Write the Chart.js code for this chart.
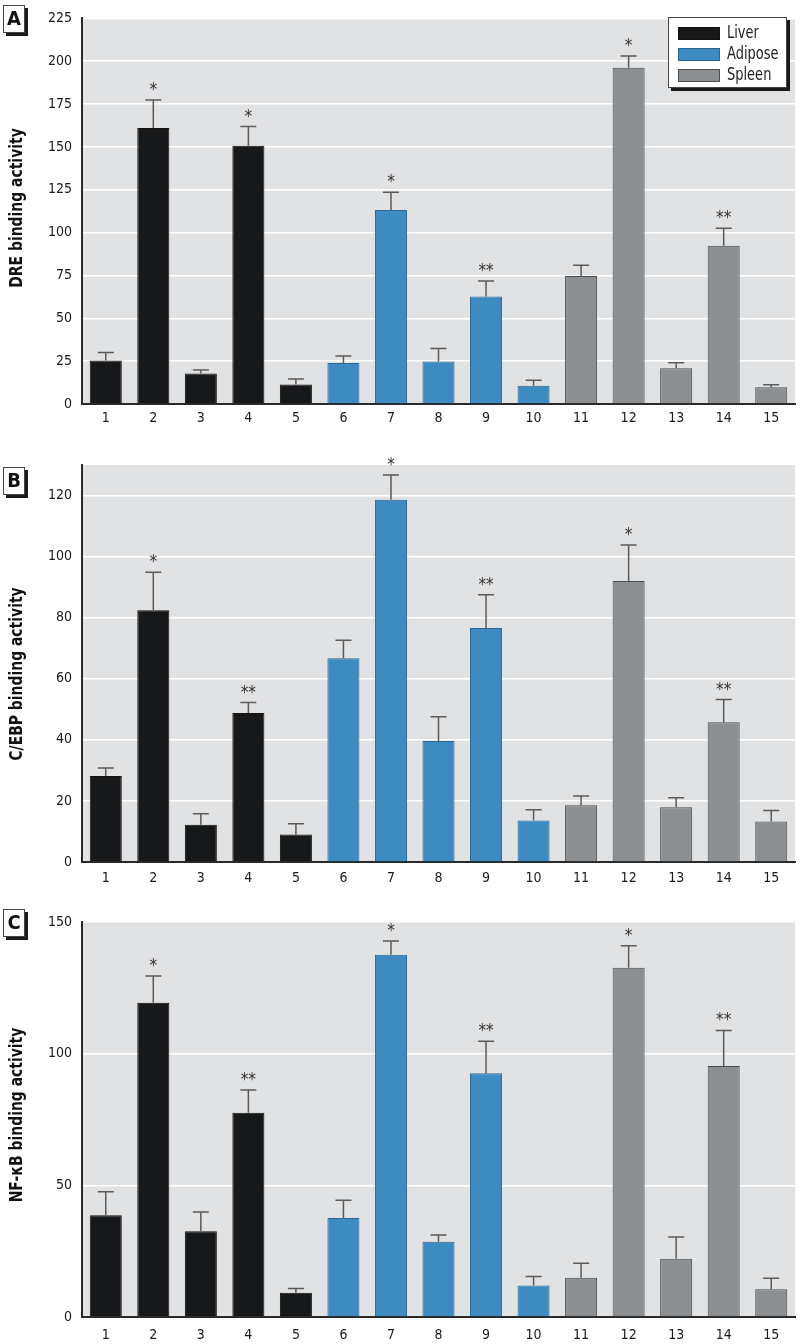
<!DOCTYPE html>
<html>
<head>
<meta charset="utf-8">
<script src="https://cdn.jsdelivr.net/npm/chart.js@4/dist/chart.umd.min.js"></script>
<style>
  body { margin: 0; background: #fff; width: 800px; height: 1344px; position: relative; overflow: hidden; }
  canvas { position: absolute; left: 0; }
</style>
</head>
<body>
<canvas id="chartA" width="800" height="440" style="top:0px"></canvas>
<canvas id="chartB" width="800" height="460" style="top:430px"></canvas>
<canvas id="chartC" width="800" height="464" style="top:880px"></canvas>
<script>
// lanes and tissue groups
var lanes = ['1','2','3','4','5','6','7','8','9','10','11','12','13','14','15'];
var tissues = ['Liver', 'Adipose', 'Spleen'];
var tissueOfLane = [0,0,0,0,0, 1,1,1,1,1, 2,2,2,2,2];

// A: DRE binding activity
var dreMean = [25.4, 161, 17.8, 150.7, 11.4, 23.9, 113.2, 24.8, 62.7, 10.6, 74.7, 196.2, 20.9, 92.3, 9.8];
var dreErr  = [4.6, 16.4, 2.1, 11.2, 3.2, 4.1, 10.4, 7.6, 9.1, 3.2, 6.2, 6.8, 3.2, 10.2, 1.4];
var dreStars = ['', '*', '', '*', '', '', '*', '', '**', '', '', '*', '', '**', ''];
var dreTicks = [0, 25, 50, 75, 100, 125, 150, 175, 200, 225];

// B: C/EBP binding activity
var cebpMean = [28.2, 82.4, 12.2, 48.8, 9.0, 66.7, 118.6, 39.6, 76.6, 13.6, 18.6, 92, 17.9, 45.8, 13.3];
var cebpErr  = [2.6, 12.5, 3.6, 3.4, 3.5, 5.9, 8.1, 8.0, 10.9, 3.5, 3.0, 11.8, 3.1, 7.4, 3.6];
var cebpStars = ['', '*', '', '**', '', '', '*', '', '**', '', '', '*', '', '**', ''];
var cebpTicks = [0, 20, 40, 60, 80, 100, 120];

// C: NF-kB binding activity
var nfkbMean = [38.6, 119.3, 32.6, 77.6, 9.2, 37.6, 137.6, 28.6, 92.6, 12, 14.9, 132.6, 22.1, 95.3, 10.5];
var nfkbErr  = [9.0, 10.2, 7.3, 8.6, 1.6, 6.7, 5.2, 2.5, 12.1, 3.4, 5.5, 8.4, 8.3, 13.5, 4.2];
var nfkbStars = ['', '*', '', '**', '', '', '*', '', '**', '', '', '*', '', '**', ''];
var nfkbTicks = [0, 50, 100, 150];

var fillColors = ['#17181a', '#3d8bc0', '#8c8f91'];
var edgeColors = ['#111111', '#2b6790', '#4a4c4e'];
var FONT = '"Liberation Sans Narrow", "DejaVu Sans Condensed", "Arial Narrow", sans-serif';

function makePanel(id, p) {
    var ctx = document.getElementById(id).getContext('2d');
    var H = ctx.canvas.height;

    // one dataset per tissue, null outside its own lanes (stacked so nulls take no room)
    var datasets = tissues.map(function(name, t) {
        return {
            label: name,
            data: p.mean.map(function(v, i) { return tissueOfLane[i] === t ? v : null; }),
            backgroundColor: fillColors[t],
            borderColor: edgeColors[t],
            borderWidth: 1,
            barPercentage: 0.674,
            categoryPercentage: 1
        };
    });

    var panelPlugin = {
        id: 'panel' + id,
        beforeDraw: function(chart) {
            var a = chart.chartArea, c = chart.ctx;
            c.save();
            c.fillStyle = '#e1e2e4';
            c.fillRect(a.left, a.top, a.right - a.left, a.bottom - a.top);
            c.restore();
        },
        afterDatasetsDraw: function(chart) {
            var c = chart.ctx, y = chart.scales.y;
            c.save();
            // error bars (upper half only) and significance stars
            for (var i = 0; i < p.mean.length; i++) {
                var bar = chart.getDatasetMeta(tissueOfLane[i]).data[i];
                var x = bar.x;
                var yTop = y.getPixelForValue(p.mean[i]);
                var yErr = y.getPixelForValue(p.mean[i] + p.err[i]);
                c.strokeStyle = '#5a5a5a';
                c.lineWidth = 1.5;
                c.beginPath();
                c.moveTo(x, yTop);
                c.lineTo(x, yErr);
                c.moveTo(x - 8, yErr);
                c.lineTo(x + 8, yErr);
                c.stroke();
                if (p.stars[i]) {
                    c.fillStyle = '#333';
                    c.font = '17px ' + FONT;
                    c.textAlign = 'center';
                    c.textBaseline = 'alphabetic';
                    c.fillText(p.stars[i], x, yErr - 5);
                }
            }
            c.restore();
        },
        afterDraw: function(chart) {
            var c = chart.ctx;
            c.save();
            // panel letter box with shadow
            var b = p.box;
            c.fillStyle = '#1a1a1a';
            c.fillRect(b[0] + 3, b[1] + 3, b[2], b[3]);
            c.fillStyle = '#fff';
            c.fillRect(b[0], b[1], b[2], b[3]);
            c.strokeStyle = '#444';
            c.lineWidth = 1;
            c.strokeRect(b[0] + 0.5, b[1] + 0.5, b[2] - 1, b[3] - 1);
            c.fillStyle = '#111';
            c.font = 'bold 20px ' + FONT;
            c.textAlign = 'center';
            c.textBaseline = 'middle';
            c.fillText(p.letter, b[0] + b[2] / 2, b[1] + b[3] / 2 + 1);

            // y axis title, squeezed to look like a condensed face
            c.translate(17, p.titleY);
            c.rotate(-Math.PI / 2);
            c.scale(0.86, 1);
            c.font = 'bold 18px ' + FONT;
            c.fillText(p.title, 0, 0);
            c.restore();

            if (p.legend) {
                c.save();
                var lx = 668, ly = 17, lw = 119, lh = 71;
                c.fillStyle = '#1a1a1a';
                c.fillRect(lx + 3, ly + 3, lw, lh);
                c.fillStyle = '#fff';
                c.fillRect(lx, ly, lw, lh);
                c.strokeStyle = '#444';
                c.strokeRect(lx + 0.5, ly + 0.5, lw - 1, lh - 1);
                chart.data.datasets.forEach(function(ds, t) {
                    var ry = ly + 10 + t * 21;
                    c.fillStyle = ds.backgroundColor;
                    c.fillRect(678, ry, 42, 13);
                    c.strokeStyle = ds.borderColor;
                    c.strokeRect(678.5, ry + 0.5, 41, 12);
                    c.save();
                    c.translate(727, ry + 7);
                    c.scale(0.85, 1);
                    c.fillStyle = '#222';
                    c.font = '17px ' + FONT;
                    c.textAlign = 'left';
                    c.textBaseline = 'middle';
                    c.fillText(ds.label, 0, 0);
                    c.restore();
                });
                c.restore();
            }
        }
    };

    return new Chart(ctx, {
        type: 'bar',
        data: { labels: lanes, datasets: datasets },
        options: {
            responsive: false,
            animation: false,
            devicePixelRatio: 1,
            layout: { padding: { top: p.top, right: 5, left: 0, bottom: 0 } },
            plugins: { legend: { display: false }, tooltip: { enabled: false } },
            scales: {
                x: {
                    stacked: true,
                    grid: { display: false, drawTicks: false },
                    border: { display: true, color: '#2a2a2a', width: 2 },
                    ticks: { color: '#1a1a1a', font: { family: FONT, size: 14 }, padding: p.xPad, maxRotation: 0 },
                    afterFit: function(s) { s.height = H - p.bottom; }
                },
                y: {
                    stacked: true,
                    min: 0,
                    max: p.max,
                    grid: { color: '#ffffff', lineWidth: 1.5, drawTicks: false },
                    border: { display: true, color: '#2a2a2a', width: 2 },
                    ticks: { color: '#1a1a1a', font: { family: FONT, size: 14 }, padding: 10 },
                    afterBuildTicks: function(s) {
                        s.ticks = p.ticks.map(function(v) { return { value: v }; });
                    },
                    afterFit: function(s) { s.width = 82; }
                }
            }
        },
        plugins: [panelPlugin]
    });
}

makePanel('chartA', {
    mean: dreMean, err: dreErr, stars: dreStars, ticks: dreTicks, max: 225,
    top: 8, bottom: 404, xPad: 6,
    letter: 'A', box: [3, 5, 22, 28],
    title: 'DRE binding activity', titleY: 208, legend: true
});
makePanel('chartB', {
    mean: cebpMean, err: cebpErr, stars: cebpStars, ticks: cebpTicks, max: 130,
    top: 35, bottom: 432, xPad: 8,
    letter: 'B', box: [3, 37, 22, 28],
    title: 'C/EBP binding activity', titleY: 244
});
makePanel('chartC', {
    mean: nfkbMean, err: nfkbErr, stars: nfkbStars, ticks: nfkbTicks, max: 150,
    top: 42, bottom: 437, xPad: 10,
    letter: 'C', box: [3, 29, 22, 28],
    title: 'NF-\u03BAB binding activity', titleY: 235
});
</script>
</body>
</html>
